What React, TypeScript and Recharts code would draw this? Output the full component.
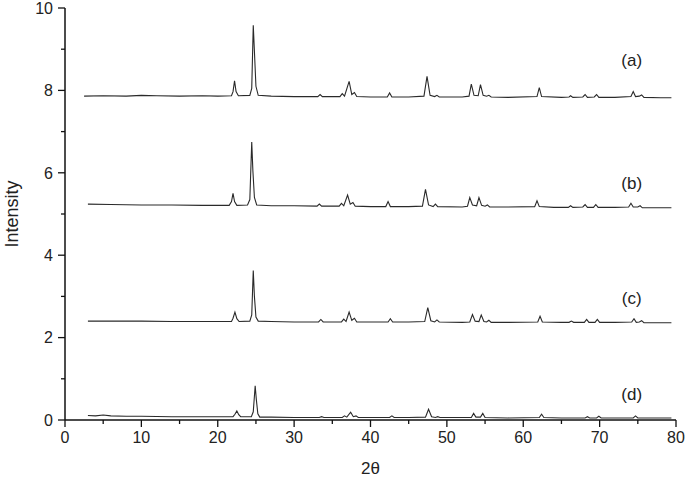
import React from 'react';
import { LineChart, Line, XAxis, YAxis, ReferenceDot } from 'recharts';

// 2θ / intensity pairs, one list per pattern
const seriesA: [number, number][] = [
  [2.5, 7.86], [5, 7.87], [8, 7.86], [10, 7.88], [12, 7.87], [15, 7.86], [18, 7.87], [20, 7.86],
  [21.8, 7.87], [22.0, 7.97], [22.2, 8.23], [22.4, 7.97], [22.7, 7.87],
  [24.2, 7.88], [24.45, 8.05], [24.65, 9.58], [24.8, 8.95], [25.0, 8.1], [25.3, 7.88],
  [27, 7.86], [30, 7.85], [33.1, 7.85], [33.4, 7.9], [33.7, 7.85],
  [36.0, 7.85], [36.3, 7.92], [36.6, 7.86], [37.2, 8.22], [37.55, 7.9], [37.9, 7.95], [38.2, 7.85],
  [40, 7.84], [42.2, 7.84], [42.5, 7.94], [42.8, 7.84], [45, 7.84],
  [47.0, 7.86], [47.4, 8.34], [47.8, 7.88], [48.4, 7.85], [48.7, 7.88], [49.0, 7.84],
  [52, 7.84], [52.9, 7.86], [53.2, 8.15], [53.55, 7.88], [54.1, 7.87], [54.4, 8.14], [54.75, 7.88],
  [55.2, 7.86], [55.5, 7.88], [55.8, 7.84], [58, 7.83], [61.8, 7.85], [62.1, 8.07], [62.4, 7.85],
  [65, 7.83], [66.0, 7.84], [66.2, 7.87], [66.5, 7.83], [67.8, 7.84], [68.1, 7.9], [68.4, 7.83],
  [69.3, 7.84], [69.6, 7.9], [69.9, 7.83], [72, 7.83], [74.1, 7.85], [74.4, 7.97], [74.7, 7.85],
  [75.2, 7.86], [75.5, 7.89], [75.8, 7.83], [78, 7.82], [79.4, 7.82],
];

const seriesB: [number, number][] = [
  [3, 5.24], [6, 5.23], [10, 5.22], [14, 5.22], [18, 5.21], [21.5, 5.21], [21.8, 5.3], [22.0, 5.5],
  [22.2, 5.3], [22.5, 5.21], [23.9, 5.22], [24.2, 5.35], [24.45, 6.75], [24.6, 6.05], [24.8, 5.4],
  [25.1, 5.22], [27, 5.2], [30, 5.2], [33.0, 5.19], [33.3, 5.24], [33.6, 5.19], [35.9, 5.19],
  [36.2, 5.26], [36.5, 5.2], [37.0, 5.46], [37.35, 5.24], [37.7, 5.28], [38.0, 5.19], [40, 5.18],
  [42.0, 5.18], [42.3, 5.3], [42.6, 5.18], [45, 5.18], [46.8, 5.19], [47.2, 5.6], [47.6, 5.22],
  [48.2, 5.18], [48.5, 5.24], [48.8, 5.18], [52, 5.17], [52.7, 5.19], [53.0, 5.4], [53.35, 5.22],
  [53.9, 5.2], [54.2, 5.4], [54.55, 5.21], [55.0, 5.19], [55.3, 5.22], [55.6, 5.17], [58, 5.17],
  [61.5, 5.18], [61.8, 5.32], [62.1, 5.18], [64, 5.16], [65.9, 5.16], [66.2, 5.2], [66.5, 5.16],
  [67.8, 5.17], [68.1, 5.23], [68.4, 5.16], [69.2, 5.16], [69.5, 5.23], [69.8, 5.16], [72, 5.16],
  [73.8, 5.17], [74.1, 5.26], [74.4, 5.17], [75.0, 5.17], [75.3, 5.2], [75.6, 5.15], [78, 5.15],
  [79.4, 5.15],
];

const seriesC: [number, number][] = [
  [3, 2.4], [6, 2.4], [10, 2.4], [14, 2.39], [18, 2.39], [21.8, 2.39], [22.0, 2.47], [22.25, 2.62],
  [22.5, 2.46], [22.8, 2.39], [24.2, 2.4], [24.45, 2.55], [24.65, 3.63], [24.8, 3.0], [25.0, 2.5],
  [25.3, 2.4], [27, 2.39], [30, 2.38], [33.2, 2.38], [33.5, 2.44], [33.8, 2.38], [36.2, 2.38],
  [36.5, 2.45], [36.8, 2.39], [37.2, 2.62], [37.55, 2.42], [37.9, 2.47], [38.2, 2.38], [40, 2.38],
  [42.3, 2.38], [42.6, 2.46], [42.9, 2.38], [45, 2.38], [47.1, 2.39], [47.5, 2.73], [47.9, 2.41],
  [48.4, 2.38], [48.7, 2.43], [49.0, 2.38], [52, 2.37], [53.0, 2.38], [53.35, 2.56], [53.7, 2.4],
  [54.2, 2.39], [54.5, 2.55], [54.85, 2.39], [55.2, 2.38], [55.5, 2.42], [55.8, 2.37], [58, 2.37],
  [61.9, 2.38], [62.2, 2.52], [62.5, 2.38], [65, 2.37], [66.0, 2.37], [66.3, 2.4], [66.6, 2.37],
  [68.0, 2.37], [68.3, 2.44], [68.6, 2.37], [69.4, 2.37], [69.7, 2.44], [70.0, 2.37], [72, 2.37],
  [74.2, 2.38], [74.5, 2.46], [74.8, 2.37], [75.2, 2.38], [75.5, 2.41], [75.8, 2.36], [78, 2.36],
  [79.4, 2.36],
];

const seriesD: [number, number][] = [
  [3, 0.11], [4, 0.1], [5, 0.12], [6, 0.1], [8, 0.09], [10, 0.09], [14, 0.08], [18, 0.08],
  [22.0, 0.08], [22.25, 0.14], [22.5, 0.22], [22.75, 0.13], [23.0, 0.08], [24.4, 0.08],
  [24.65, 0.2], [24.9, 0.83], [25.05, 0.5], [25.25, 0.15], [25.5, 0.07], [27, 0.07], [30, 0.06],
  [33.3, 0.06], [33.6, 0.08], [33.9, 0.06], [36.3, 0.06], [36.6, 0.1], [36.9, 0.07], [37.4, 0.19],
  [37.75, 0.08], [38.1, 0.1], [38.4, 0.06], [40, 0.06], [42.5, 0.06], [42.8, 0.1], [43.1, 0.06],
  [45, 0.06], [47.2, 0.07], [47.6, 0.26], [48.0, 0.08], [48.5, 0.06], [48.8, 0.08], [49.1, 0.06],
  [52, 0.06], [53.2, 0.06], [53.5, 0.16], [53.8, 0.07], [54.4, 0.07], [54.7, 0.16], [55.0, 0.06],
  [58, 0.05], [62.1, 0.06], [62.4, 0.14], [62.7, 0.06], [65, 0.05], [68.1, 0.05], [68.4, 0.08],
  [68.7, 0.05], [69.6, 0.05], [69.9, 0.09], [70.2, 0.05], [72, 0.05], [74.4, 0.05], [74.7, 0.1],
  [75.0, 0.05], [78, 0.05], [79.4, 0.05],
];

const patternLabels = ['(a)', '(b)', '(c)', '(d)'];
const labelX = [74.2, 74.2, 74.2, 74.2];
const labelY = [8.74, 5.75, 2.95, 0.62];

const xTicks = [0, 5, 10, 15, 20, 25, 30, 35, 40, 45, 50, 55, 60, 65, 70, 75, 80];
const yTicks = [0, 1, 2, 3, 4, 5, 6, 7, 8, 9, 10];

const toRows = (pts: [number, number][]) => pts.map(([x, y]) => ({ x, y }));
const allSeries = [seriesA, seriesB, seriesC, seriesD].map(toRows);

const FONT = '"Liberation Sans", Arial, sans-serif';
const TICK_SIZE = 7;
const TICK_MARGIN = 5;

const YTick = (props: any) => {
  const { x, y, payload } = props;
  const axisX = x + TICK_SIZE + TICK_MARGIN;
  const major = payload.value % 2 === 0;
  return (
    <g>
      <line x1={axisX} x2={axisX - (major ? 7 : 4)} y1={y} y2={y} stroke="#111" strokeWidth={1.3} />
      {major && (
        <text x={x} y={y} dy="0.36em" textAnchor="end" fontSize={16} fontFamily={FONT} fill="#222">
          {payload.value}
        </text>
      )}
    </g>
  );
};

const XTick = (props: any) => {
  const { x, y, payload } = props;
  const axisY = y - TICK_SIZE - TICK_MARGIN;
  const major = payload.value % 10 === 0;
  return (
    <g>
      <line x1={x} x2={x} y1={axisY} y2={axisY + (major ? 7 : 4)} stroke="#111" strokeWidth={1.3} />
      {major && (
        <text x={x} y={y} dy="0.71em" textAnchor="middle" fontSize={16} fontFamily={FONT} fill="#222">
          {payload.value}
        </text>
      )}
    </g>
  );
};

export default function App() {
  return (
    <div style={{ position: 'absolute', left: 0, top: 0, background: '#fff' }}>
      <LineChart width={685} height={483} margin={{ top: 8, right: 9, bottom: 0, left: 0 }}>
        <XAxis
          type="number"
          dataKey="x"
          domain={[0, 80]}
          ticks={xTicks}
          interval={0}
          allowDataOverflow
          stroke="#111"
          strokeWidth={1.5}
          tickLine={false}
          tickSize={TICK_SIZE}
          tickMargin={TICK_MARGIN}
          tick={<XTick />}
          height={63}
          label={{
            content: (p: any) => {
              const vb = p.viewBox;
              return (
                <text x={vb.x + vb.width / 2} y={vb.y + 54} textAnchor="middle" fontSize={17} fontFamily={FONT} fill="#222">
                  2θ
                </text>
              );
            },
          }}
        />
        <YAxis
          type="number"
          domain={[0, 10]}
          ticks={yTicks}
          interval={0}
          allowDataOverflow
          stroke="#111"
          strokeWidth={1.5}
          tickLine={false}
          tickSize={TICK_SIZE}
          tickMargin={TICK_MARGIN}
          tick={<YTick />}
          width={65}
          label={{
            content: (p: any) => {
              const vb = p.viewBox;
              const cx = vb.x + 12;
              const cy = vb.y + vb.height / 2;
              return (
                <text x={cx} y={cy} transform={`rotate(-90 ${cx} ${cy})`} dy="0.36em" textAnchor="middle" fontSize={18} fontFamily={FONT} fill="#222">
                  Intensity
                </text>
              );
            },
          }}
        />
        {allSeries.map((rows, i) => (
          <Line
            key={i}
            data={rows}
            dataKey="y"
            type="linear"
            stroke="#2a2a2a"
            strokeWidth={1.1}
            dot={false}
            activeDot={false}
            isAnimationActive={false}
          />
        ))}
        {patternLabels.map((t, i) => (
          <ReferenceDot
            key={t}
            x={labelX[i]}
            y={labelY[i]}
            r={0}
            fill="none"
            stroke="none"
            label={{ value: t, position: 'center', fontSize: 17, fontFamily: FONT, fill: '#222' }}
          />
        ))}
      </LineChart>
    </div>
  );
}
